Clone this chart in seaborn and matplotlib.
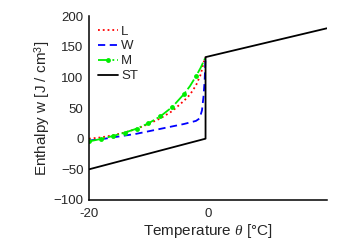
import matplotlib
matplotlib.use("Agg")
import matplotlib.pyplot as plt
import seaborn as sns

# Temperature (deg C) and enthalpy (J/cm^3)
l_temp = [-20, -18, -16, -14, -12, -10, -8, -6, -4, -3, -2, -1.2, -0.7, -0.4]
l_enth = [0, 2, 5.5, 10, 16, 24, 33, 45, 62, 72, 87, 105, 125, 133]

w_temp = [-20, -18, -16, -14, -12, -10, -8, -6, -4, -2, -1.4, -1.0, -0.75, -0.55, -0.4]
w_enth = [-3, -1, 2, 5, 8, 12, 16, 20, 24, 29, 33, 46, 68, 95, 133]

m_temp = [-20, -18, -16, -14, -12, -10, -8, -6, -4, -3, -2, -1.2, -0.4]
m_enth = [-4.5, -0.5, 4.3, 9.8, 16.3, 25, 36.4, 51.6, 73, 86, 102, 116, 133]
m_marks = [0, 1, 2, 3, 4, 5, 6, 7, 8, 10]

st_temp = [-20, -0.4, -0.4, 20]
st_enth = [-50, 0, 133, 180]

sns.set_style("white")
plt.rcParams["font.family"] = ["Liberation Sans", "DejaVu Sans"]
plt.rcParams["mathtext.fontset"] = "custom"
plt.rcParams["mathtext.rm"] = "Liberation Sans"
plt.rcParams["mathtext.it"] = "Liberation Serif:italic"

fig = plt.figure(figsize=(3.53, 2.43), dpi=100)
ax = fig.add_axes([0.252, 0.177, 0.674, 0.757])

opts = dict(ax=ax, sort=False, estimator=None, linewidth=1.3)
sns.lineplot(x=l_temp, y=l_enth, color="#ff0000", linestyle=":", label="L", **opts)
sns.lineplot(x=w_temp, y=w_enth, color="#0000ff", linestyle=(0, (4, 2.5)), label="W", **opts)
sns.lineplot(x=m_temp, y=m_enth, color="#00ee00", linestyle="-.", marker="o",
             markersize=3.5, markevery=m_marks, markeredgewidth=0, label="M", **opts)
sns.lineplot(x=st_temp, y=st_enth, color="black", linestyle="-", label="ST", **opts)

ax.set_xlim(-20, 20)
ax.set_ylim(-100, 200)
ax.set_xticks([-20, 0, 20])
ax.set_xticklabels(["-20", "0", ""])
ax.set_yticks([-100, -50, 0, 50, 100, 150, 200])
ax.tick_params(direction="in", length=3, width=1, labelsize=9.5)
ax.tick_params(axis="x", pad=6)
ax.tick_params(axis="y", pad=4)
for side in ["top", "right"]:
    ax.spines[side].set_visible(False)
for side in ["left", "bottom"]:
    ax.spines[side].set_linewidth(1.1)
    ax.spines[side].set_color("black")

ax.set_xlabel(r"Temperature $\it{\theta}$ [°C]", fontsize=11, labelpad=1)
ax.set_ylabel(r"Enthalpy w [J / cm$^3$]", fontsize=11, labelpad=0)

ax.legend(loc="upper left", frameon=False, fontsize=9.5, handlelength=1.5,
          handletextpad=0.25, labelspacing=0.2, borderaxespad=0.3,
          bbox_to_anchor=(0.0, 1.0))

fig.savefig("out.png", dpi=100)
